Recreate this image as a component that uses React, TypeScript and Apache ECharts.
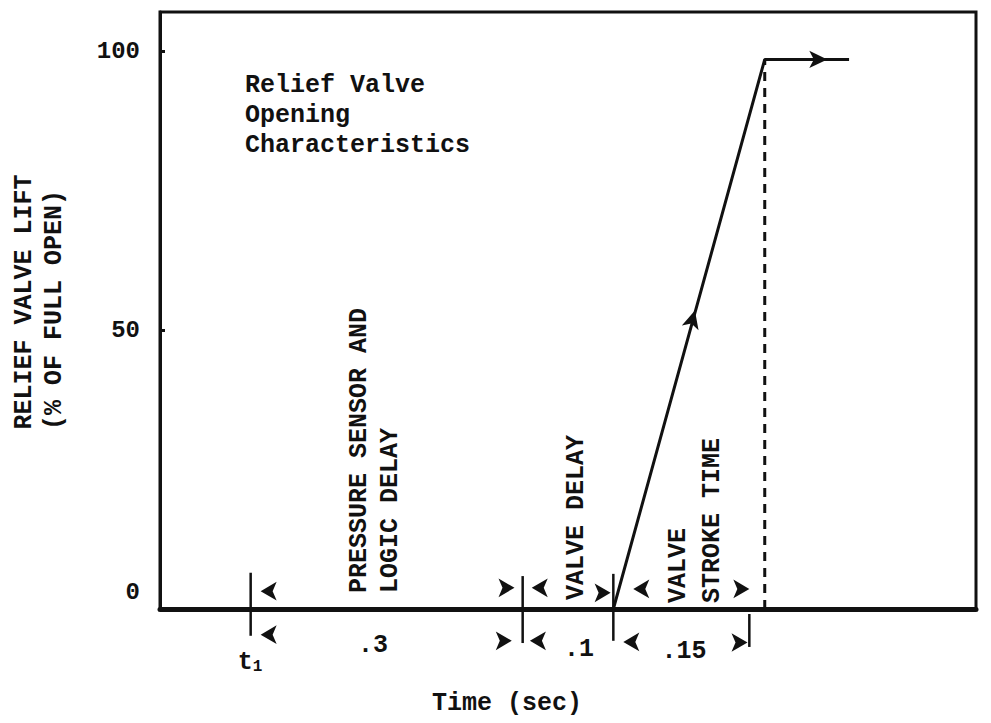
import React, { useEffect, useRef } from 'react';
import * as echarts from 'echarts';

// ---- data ----
const xRange = [-0.1, 0.8]; // time (sec) relative to t1
const yRange = [0, 107]; // % of full open
const yTickValues = [0, 50, 100];
const liftCurve: number[][] = [[0.4, 0], [0.567, 98.5], [0.66, 98.5]];
const fullOpenLine: number[][] = [[0.567, 0], [0.567, 98.5]];
// [t, lift, rotation]
const curveArrows: number[][] = [[0.49, 53.5, -15.3], [0.636, 98.5, -90]];
// [t, top, bottom]
const dimTicks: number[][] = [[0, 6.5, -4.8], [0.3, 5.9, -6.1], [0.4, 6.3, -5.7], [0.55, -0.9, -6.8]];
const chevronsLeft: number[][] = [[0.011, 3.2], [0.011, -4.6], [0.31, 3.8], [0.308, -5.7], [0.422, 3.6], [0.411, -5.9]];
const chevronsRight: number[][] = [[0.291, 3.8], [0.288, -5.7], [0.397, 2.9], [0.55 - 0.0, 3.6], [0.548, -6.0]];
const intervalLabels: (number | string)[][] = [[0.135, -6.5, '.3'], [0.362, -7.3, '.1'], [0.478, -7.6, '.15']];

const FONT = '"Liberation Mono", "DejaVu Sans Mono", monospace';
const INK = '#111';

export default function App() {
  const ref = useRef<HTMLDivElement>(null);
  useEffect(() => {
    document.body.style.margin = '0';
    if (!ref.current) return;
    const chart = echarts.init(ref.current, undefined, { renderer: 'svg' });
    const txt = (text: string, x: number, y: number, rot = 0, align = 'left', size = 25, extra: any = {}) => ({
      type: 'text',
      x,
      y,
      rotation: rot,
      style: {
        text,
        fill: INK,
        fontFamily: FONT,
        fontSize: size,
        fontWeight: 'bold',
        textAlign: align,
        textVerticalAlign: 'middle',
        ...extra,
      },
    });
    const R = Math.PI / 2;
    const solid = { color: INK, opacity: 1 };
    const series: any[] = [
      {
        type: 'line',
        data: liftCurve,
        symbol: 'none',
        lineStyle: { color: INK, width: 3 },
        clip: false,
        z: 5,
      },
      {
        type: 'line',
        data: fullOpenLine,
        symbol: 'none',
        lineStyle: { color: INK, width: 3, type: [9, 7] },
        clip: false,
      },
      {
        type: 'scatter',
        data: curveArrows.map((a) => ({ value: [a[0], a[1]], symbolRotate: a[2] })),
        symbol: 'arrow',
        symbolSize: [13, 18],
        itemStyle: solid,
        clip: false,
        z: 6,
      },
      ...dimTicks.map((d) => ({
        type: 'line',
        data: [[d[0], d[1]], [d[0], d[2]]],
        symbol: 'none',
        lineStyle: { color: INK, width: 2.5 },
        clip: false,
      })),
      {
        type: 'scatter',
        data: chevronsLeft.map((c) => ({ value: c, symbolRotate: 90 })),
        symbol: 'arrow',
        symbolSize: [14, 16],
        itemStyle: solid,
        clip: false,
      },
      {
        type: 'scatter',
        data: chevronsRight.map((c) => ({ value: c, symbolRotate: -90 })),
        symbol: 'arrow',
        symbolSize: [14, 16],
        itemStyle: solid,
        clip: false,
      },
      {
        type: 'scatter',
        data: intervalLabels,
        symbolSize: 0,
        itemStyle: solid,
        clip: false,
        label: {
          show: true,
          position: 'inside',
          formatter: (p: any) => p.value[2],
          color: INK,
          opacity: 1,
          fontFamily: FONT,
          fontSize: 25,
          fontWeight: 'bold',
        },
      },
    ];
    chart.setOption({
      animation: false,
      backgroundColor: '#fff',
      grid: {
        left: 160,
        right: 15,
        top: 12,
        bottom: 114,
        show: true,
        borderColor: INK,
        borderWidth: 3,
      },
      xAxis: {
        type: 'value',
        min: xRange[0],
        max: xRange[1],
        axisLabel: { show: false },
        axisTick: { show: false },
        splitLine: { show: false },
        axisLine: { show: true, onZero: false, lineStyle: { color: INK, width: 5 } },
      },
      yAxis: {
        type: 'value',
        min: yRange[0],
        max: yRange[1],
        interval: 50,
        splitLine: { show: false },
        axisLine: { show: true, onZero: false, lineStyle: { color: INK, width: 3 } },
        axisTick: {
          show: true,
          inside: true,
          length: 5,
          customValues: [50, 100],
          lineStyle: { color: INK, width: 3 },
        },
        axisLabel: {
          customValues: yTickValues,
          margin: 20,
          color: INK,
          fontFamily: FONT,
          fontSize: 24,
          fontWeight: 'bold',
          formatter: (v: number) => (v === 0 ? '{z|0}' : String(v)),
          rich: {
            z: {
              color: INK,
              fontFamily: FONT,
              fontSize: 24,
              fontWeight: 'bold',
              padding: [0, 0, 34, 0],
            },
          },
        },
      },
      graphic: [
        txt('Relief Valve\nOpening\nCharacteristics', 245, 70, 0, 'left', 25, {
          textVerticalAlign: 'top',
          lineHeight: 30,
        }),
        txt('RELIEF VALVE LIFT', 24, 302, R, 'center'),
        txt('(% OF FULL OPEN)', 54, 310, R, 'center'),
        txt('PRESSURE SENSOR AND', 359, 593, R),
        txt('LOGIC DELAY', 390, 593, R),
        txt('VALVE DELAY', 576, 600, R),
        txt('VALVE', 678, 603, R),
        txt('STROKE TIME', 712, 603, R),
        {
          type: 'text',
          x: 250,
          y: 662,
          style: {
            text: '{t|t}{s|1}',
            textAlign: 'center',
            textVerticalAlign: 'middle',
            rich: {
              t: { fontFamily: FONT, fontSize: 25, fontWeight: 'bold', fill: INK, color: INK },
              s: { fontFamily: FONT, fontSize: 16, fontWeight: 'bold', fill: INK, color: INK, padding: [10, 0, 0, 0] },
            },
          },
        },
        txt('Time (sec)', 507, 703, 0, 'center'),
      ],
      series,
    });
    return () => chart.dispose();
  }, []);
  return <div ref={ref} style={{ width: 991, height: 723 }} />;
}
